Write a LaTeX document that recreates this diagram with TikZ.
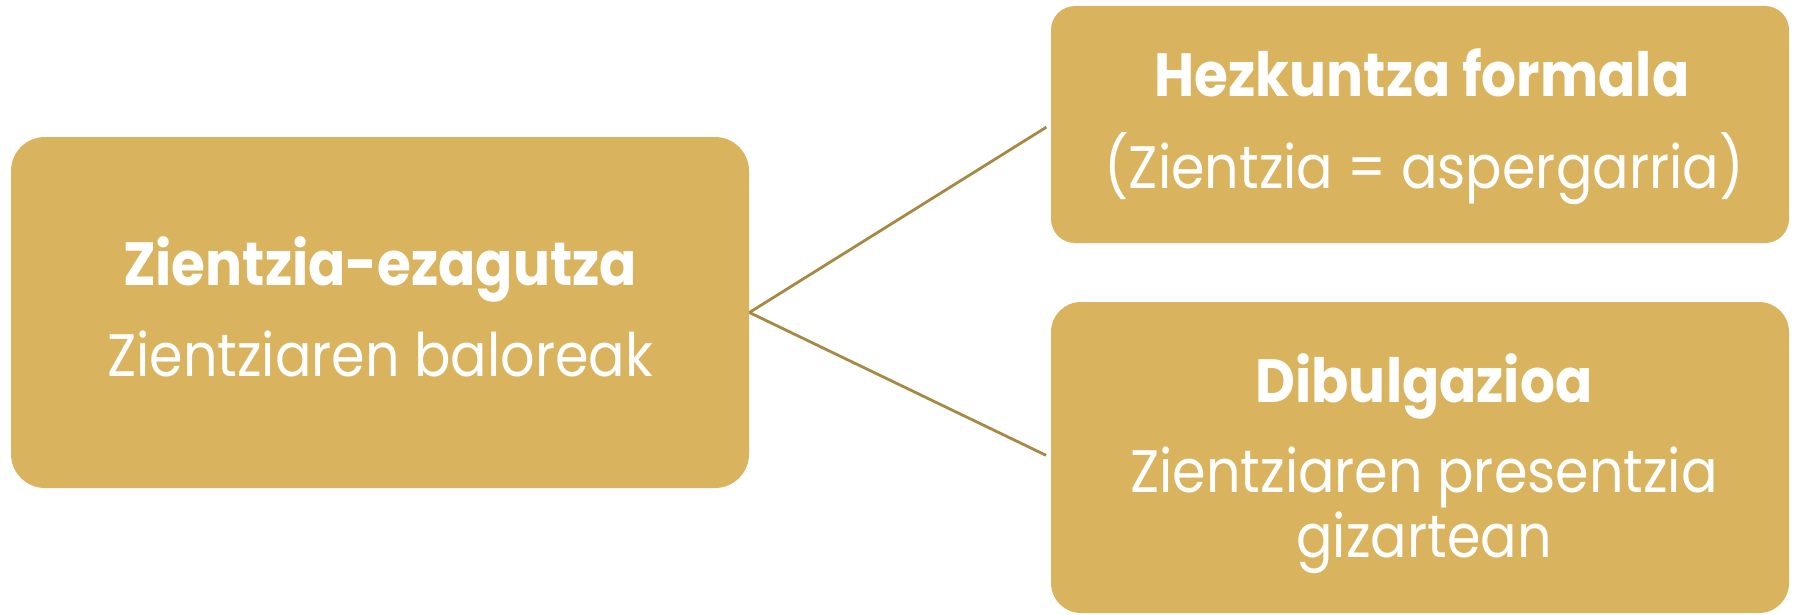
\documentclass[tikz,border=0pt]{standalone}
\usepackage{fontspec}
\setmainfont{Poppins}[FakeStretch=0.9]
\usetikzlibrary{positioning}

\definecolor{boxgold}{HTML}{D9B35D}
\definecolor{linegold}{HTML}{A68A44}

\tikzset{
  box/.style={fill=boxgold, inner sep=0pt, minimum width=369pt},
  title/.style={text=white, inner sep=0pt, anchor=base,
    font=\fontsize{30.5}{32}\bfseries\selectfont},
  body/.style={text=white, inner sep=0pt, anchor=base,
    font=\fontsize{30}{32}\selectfont},
  link/.style={draw=linegold, line width=1.4pt, shorten >=2.5pt}
}

\begin{document}
\begin{tikzpicture}[x=0.5pt, y=-0.5pt]
  \useasboundingbox (0, 0) rectangle (1797, 615);

  % boxes
  \node[box, minimum height=175.5pt, rounded corners=17pt] (knowledge) at (380, 312.5) {};
  \node[box, minimum height=118.5pt, rounded corners=12pt] (formal) at (1420, 124.5) {};
  \node[box, minimum height=155.5pt, rounded corners=15pt] (outreach) at (1420, 457.5) {};

  % texts
  \node[title] (knowledge-t) at (380, 285) {Zientzia-ezagutza};
  \node[body] (knowledge-b) at (380, 376) {Zientziaren baloreak};

  \node[title] (formal-t) at (1422, 97) {Hezkuntza formala};
  \node[body] (formal-b) at (1424, 188) {(Zientzia = aspergarria)};

  \node[title] (outreach-t) at (1424, 402) {Dibulgazioa};
  \node[body] (outreach-b) at (1424, 492) {Zientziaren presentzia};
  \node[body] (outreach-c) at (1424, 557) {gizartean};

  \draw[link] (knowledge.east) -- (formal.west);
  \draw[link] (knowledge.east) -- (outreach.west);
\end{tikzpicture}
\end{document}
